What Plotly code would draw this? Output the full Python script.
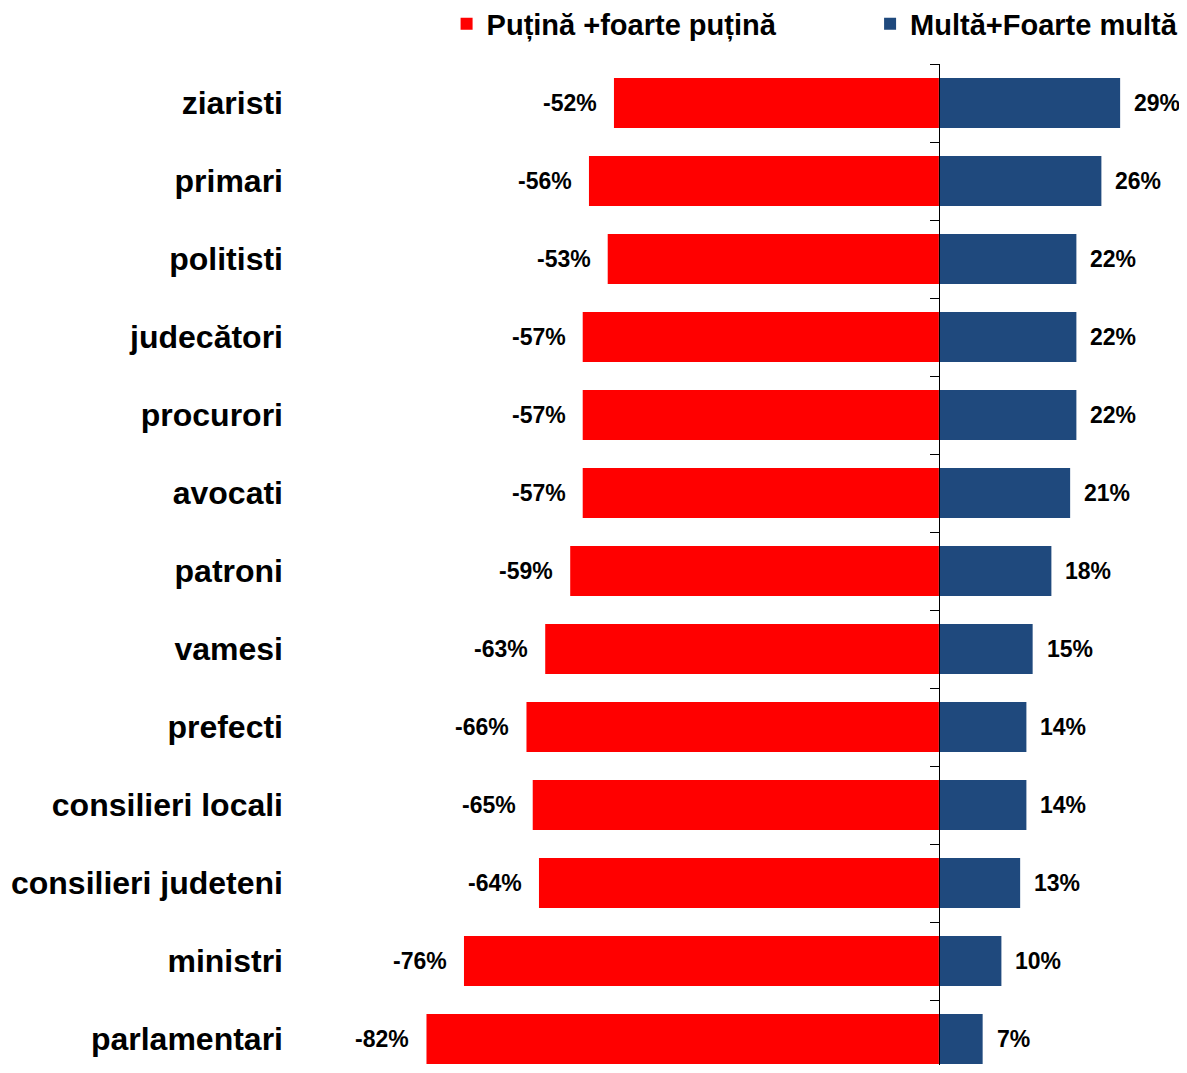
import plotly.graph_objects as go

categories = ["ziaristi", "primari", "politisti", "judecători", "procurori", "avocati",
              "patroni", "vamesi", "prefecti", "consilieri locali",
              "consilieri judeteni", "ministri", "parlamentari"]
putina = [-52, -56, -53, -57, -57, -57, -59, -63, -66, -65, -64, -76, -82]
multa = [29, 26, 22, 22, 22, 21, 18, 15, 14, 14, 13, 10, 7]

RED = '#FF0000'
BLUE = '#1F497D'
FONT = 'Liberation Sans'

pos = list(range(len(categories)))
y_range = [12.333, -0.5]
x_range = [-100, 39.7]
zero_pos = (0 - x_range[0]) / (x_range[1] - x_range[0])

fig = go.Figure()
fig.add_trace(go.Bar(
    y=pos, x=putina, orientation='h', name='Puțină +foarte puțină',
    marker=dict(color=RED, line=dict(width=0)), hoverinfo='x', legend='legend'
))
fig.add_trace(go.Bar(
    y=pos, x=multa, orientation='h', name='Multă+Foarte multă',
    marker=dict(color=BLUE, line=dict(width=0)), hoverinfo='x', legend='legend2'
))
# invisible trace so the zero axis (y2) gets drawn
fig.add_trace(go.Scatter(
    x=[0], y=[0], yaxis='y2', mode='markers', marker=dict(opacity=0),
    showlegend=False, hoverinfo='skip'
))

# data labels outside the bar ends
label_font = dict(family=FONT, size=23, color='black', weight='bold')
for p, v in zip(pos, putina):
    fig.add_annotation(x=v, y=p, text=f'{v}%', showarrow=False, xanchor='right',
                       xshift=-15, font=label_font)
for p, v in zip(pos, multa):
    fig.add_annotation(x=v, y=p, text=f'{v}%', showarrow=False, xanchor='left',
                       xshift=12, font=label_font)

legend_style = dict(
    orientation='h',
    xref='container',
    yref='container',
    xanchor='left',
    y=0.985,
    yanchor='middle',
    font=dict(family=FONT, size=29, color='black', weight='bold'),
    itemclick=False,
    bgcolor='rgba(0,0,0,0)',
)

fig.update_layout(
    width=1179,
    height=1057,
    barmode='relative',
    bargap=0.36,
    plot_bgcolor='white',
    paper_bgcolor='white',
    margin=dict(l=306, r=0, t=56, b=0, autoexpand=False),
    font=dict(family=FONT, color='black'),
    xaxis=dict(range=x_range, visible=False, fixedrange=True),
    yaxis=dict(
        range=y_range,
        tickvals=pos,
        ticktext=categories,
        ticks='',
        showline=False,
        showgrid=False,
        zeroline=False,
        ticklabelstandoff=30,
        tickfont=dict(family=FONT, size=32, color='black', weight='bold'),
    ),
    yaxis2=dict(
        overlaying='y',
        anchor='free',
        position=zero_pos,
        side='left',
        range=y_range,
        tickvals=[p - 0.5 for p in pos],
        showticklabels=False,
        ticks='outside',
        ticklen=9,
        tickcolor='black',
        tickwidth=1,
        showline=True,
        linecolor='black',
        linewidth=1,
        showgrid=False,
        zeroline=False,
    ),
    legend=dict(x=0.3720, **legend_style),
    legend2=dict(x=0.7312, **legend_style),
    showlegend=True,
)

fig.write_html("out.html")
